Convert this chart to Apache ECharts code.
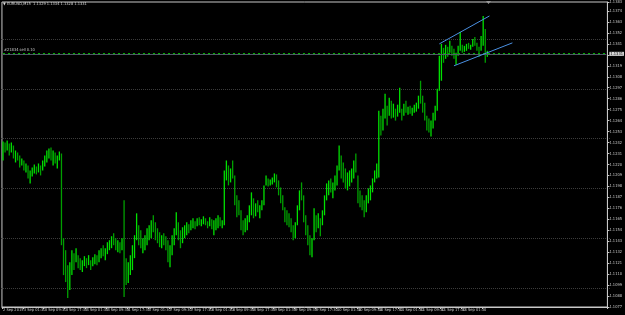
<!DOCTYPE html>
<html>
<head>
<meta charset="utf-8">
<script src="https://cdn.jsdelivr.net/npm/echarts@6/dist/echarts.min.js"></script>
<style>
html,body{margin:0;padding:0;background:#000;}
#chart{width:625px;height:315px;}
</style>
</head>
<body>
<div id="chart"></div>
<script>
const titleText = '\u25BC EURUSD,M15  1.1329 1.1334 1.1328 1.1331';
const xLabels = ['2 Sep 2015','3 Sep 01:30','3 Sep 09:30','3 Sep 17:30','4 Sep 01:30','4 Sep 09:30','4 Sep 17:30',
  '7 Sep 01:30','7 Sep 09:30','7 Sep 17:30','8 Sep 01:30','8 Sep 09:30','8 Sep 17:30','9 Sep 01:30','9 Sep 09:30',
  '9 Sep 17:30','10 Sep 01:30','10 Sep 09:30','10 Sep 17:30','11 Sep 01:30','11 Sep 09:30','11 Sep 17:30',
  '14 Sep 01:30','14 Sep 09:30'];
const totalSlots = 290;
const labelEvery = 10;

const opens = [
1.1226,1.1239,1.1236,1.1241,1.1232,1.1238,1.1228,1.1231,1.1226,1.1221,
1.1224,1.1216,1.1219,1.1208,1.1212,1.1214,1.1218,1.1213,1.1219,1.1216,
1.1222,1.1226,1.1231,1.1234,1.1227,1.1231,1.1224,1.1227,1.1230,1.1142,
1.1116,1.1108,1.1099,1.1118,1.1126,1.1122,1.1129,1.1120,1.1118,1.1122,
1.1125,1.1119,1.1124,1.1118,1.1124,1.1127,1.1122,1.1130,1.1134,1.1131,
1.1135,1.1139,1.1142,1.1146,1.1141,1.1137,1.1140,1.1134,1.1139,1.1114,
1.1108,1.1118,1.1126,1.1134,1.1144,1.1154,1.1144,1.1140,1.1144,1.1147,
1.1152,1.1156,1.1160,1.1158,1.1149,1.1147,1.1144,1.1146,1.1142,1.1136,
1.1126,1.1134,1.1144,1.1152,1.1156,1.1148,1.1144,1.1152,1.1154,1.1158,
1.1156,1.1161,1.1162,1.1158,1.1164,1.1162,1.1163,1.1165,1.1161,1.1159,
1.1164,1.1158,1.1160,1.1162,1.1165,1.1161,1.1162,1.1209,1.1216,1.1206,
1.1212,1.1208,1.1184,1.1174,1.1172,1.1158,1.1156,1.1160,1.1166,1.1174,
1.1176,1.1172,1.1178,1.1175,1.1178,1.1181,1.1199,1.1204,1.1202,1.1204,
1.1205,1.1208,1.1200,1.1192,1.1184,1.1176,1.1168,1.1164,1.1160,1.1154,
1.1150,1.1159,1.1176,1.1189,1.1186,1.1166,1.1154,1.1144,1.1134,1.1144,
1.1169,1.1159,1.1166,1.1159,1.1170,1.1186,1.1196,1.1199,1.1196,1.1198,
1.1206,1.1214,1.1224,1.1212,1.1208,1.1202,1.1206,1.1209,1.1212,1.1219,
1.1209,1.1186,1.1184,1.1178,1.1174,1.1184,1.1192,1.1196,1.1204,1.1210,
1.1214,1.1266,1.1256,1.1272,1.1279,1.1269,1.1278,1.1272,1.1276,1.1268,
1.1274,1.1276,1.1270,1.1276,1.1274,1.1276,1.1273,1.1275,1.1278,1.1280,
1.1286,1.1284,1.1276,1.1266,1.1258,1.1256,1.1260,1.1269,1.1276,1.1294,
1.1324,1.1334,1.1329,1.1336,1.1332,1.1338,1.1332,1.1328,1.1330,1.1336,
1.1338,1.1336,1.1337,1.1339,1.1338,1.1340,1.1343,1.1341,1.1336,1.1334,
1.1344,1.1352,1.1329];

const closes = [
1.1239,1.1236,1.1241,1.1232,1.1238,1.1228,1.1231,1.1226,1.1221,1.1224,
1.1216,1.1219,1.1208,1.1212,1.1214,1.1218,1.1213,1.1219,1.1216,1.1222,
1.1226,1.1231,1.1234,1.1227,1.1231,1.1224,1.1227,1.1230,1.1142,1.1116,
1.1108,1.1099,1.1118,1.1126,1.1119,1.1132,1.1120,1.1118,1.1122,1.1125,
1.1119,1.1126,1.1117,1.1124,1.1127,1.1122,1.1130,1.1134,1.1131,1.1135,
1.1139,1.1142,1.1146,1.1141,1.1137,1.1140,1.1134,1.1139,1.1114,1.1108,
1.1118,1.1126,1.1134,1.1144,1.1154,1.1144,1.1140,1.1144,1.1147,1.1152,
1.1156,1.1160,1.1158,1.1149,1.1147,1.1144,1.1146,1.1142,1.1136,1.1126,
1.1134,1.1144,1.1152,1.1156,1.1148,1.1144,1.1152,1.1154,1.1158,1.1156,
1.1161,1.1162,1.1158,1.1164,1.1162,1.1163,1.1165,1.1161,1.1159,1.1164,
1.1158,1.1160,1.1162,1.1165,1.1161,1.1162,1.1209,1.1216,1.1206,1.1212,
1.1208,1.1184,1.1174,1.1172,1.1158,1.1156,1.1160,1.1166,1.1174,1.1176,
1.1172,1.1178,1.1175,1.1178,1.1181,1.1197,1.1204,1.1202,1.1204,1.1205,
1.1208,1.1200,1.1192,1.1184,1.1176,1.1168,1.1164,1.1160,1.1154,1.1150,
1.1158,1.1176,1.1189,1.1186,1.1166,1.1154,1.1144,1.1134,1.1142,1.1169,
1.1159,1.1166,1.1154,1.1170,1.1186,1.1196,1.1199,1.1196,1.1198,1.1206,
1.1214,1.1224,1.1212,1.1208,1.1202,1.1206,1.1209,1.1212,1.1219,1.1214,
1.1186,1.1184,1.1178,1.1174,1.1184,1.1192,1.1196,1.1204,1.1210,1.1214,
1.1266,1.1256,1.1272,1.1279,1.1264,1.1278,1.1272,1.1276,1.1268,1.1274,
1.1280,1.1270,1.1276,1.1274,1.1276,1.1273,1.1275,1.1278,1.1280,1.1286,
1.1284,1.1276,1.1266,1.1258,1.1256,1.1260,1.1269,1.1276,1.1292,1.1324,
1.1334,1.1329,1.1336,1.1332,1.1338,1.1332,1.1328,1.1330,1.1336,1.1338,
1.1336,1.1337,1.1339,1.1338,1.1340,1.1343,1.1341,1.1336,1.1332,1.1344,
1.1352,1.1329,1.1331];

const highs = [
1.1243,1.1242,1.1244,1.1241,1.1242,1.1239,1.1234,1.1232,1.1229,1.1226,
1.1224,1.1221,1.1219,1.1214,1.1217,1.1220,1.1218,1.1221,1.1219,1.1224,
1.1229,1.1234,1.1236,1.1237,1.1234,1.1232,1.1229,1.1233,1.1231,1.1146,
1.1134,1.1119,1.1122,1.1134,1.1131,1.1136,1.1129,1.1126,1.1124,1.1128,
1.1126,1.1129,1.1124,1.1127,1.1130,1.1129,1.1134,1.1136,1.1139,1.1136,
1.1142,1.1144,1.1148,1.1151,1.1146,1.1144,1.1142,1.1146,1.1184,1.1126,
1.1122,1.1129,1.1139,1.1149,1.1171,1.1159,1.1154,1.1146,1.1149,1.1156,
1.1159,1.1164,1.1169,1.1162,1.1156,1.1152,1.1149,1.1151,1.1148,1.1144,
1.1139,1.1149,1.1156,1.1172,1.1162,1.1154,1.1157,1.1159,1.1162,1.1160,
1.1164,1.1166,1.1163,1.1166,1.1167,1.1165,1.1168,1.1166,1.1163,1.1167,
1.1165,1.1164,1.1166,1.1169,1.1167,1.1164,1.1214,1.1224,1.1219,1.1216,
1.1224,1.1209,1.1189,1.1184,1.1174,1.1164,1.1166,1.1169,1.1179,1.1192,
1.1186,1.1181,1.1184,1.1179,1.1184,1.1199,1.1209,1.1206,1.1205,1.1207,
1.1211,1.1210,1.1204,1.1197,1.1189,1.1177,1.1174,1.1171,1.1166,1.1159,
1.1162,1.1179,1.1194,1.1202,1.1189,1.1169,1.1159,1.1149,1.1146,1.1176,
1.1169,1.1171,1.1166,1.1174,1.1189,1.1201,1.1204,1.1206,1.1202,1.1209,
1.1219,1.1239,1.1229,1.1222,1.1216,1.1212,1.1214,1.1216,1.1224,1.1231,
1.1209,1.1194,1.1189,1.1184,1.1189,1.1196,1.1199,1.1206,1.1214,1.1221,
1.1274,1.1269,1.1276,1.1291,1.1279,1.1287,1.1284,1.1281,1.1276,1.1280,
1.1297,1.1276,1.1281,1.1284,1.1278,1.1279,1.1277,1.1280,1.1282,1.1289,
1.1304,1.1289,1.1282,1.1269,1.1266,1.1264,1.1272,1.1279,1.1296,1.1329,
1.1341,1.1337,1.1340,1.1338,1.1344,1.1339,1.1336,1.1332,1.1339,1.1353,
1.1340,1.1339,1.1341,1.1342,1.1340,1.1346,1.1348,1.1342,1.1338,1.1349,
1.1369,1.1356,1.1334];

const lows = [
1.1224,1.1232,1.1234,1.1229,1.1232,1.1226,1.1222,1.1224,1.1217,1.1219,
1.1214,1.1212,1.1206,1.1201,1.1208,1.1211,1.1210,1.1212,1.1209,1.1214,
1.1218,1.1222,1.1226,1.1224,1.1219,1.1221,1.1216,1.1224,1.1139,1.1109,
1.1102,1.1086,1.1094,1.1109,1.1114,1.1122,1.1116,1.1114,1.1112,1.1118,
1.1116,1.1119,1.1114,1.1118,1.1120,1.1119,1.1122,1.1126,1.1128,1.1124,
1.1130,1.1134,1.1136,1.1139,1.1134,1.1132,1.1131,1.1134,1.1087,1.1099,
1.1101,1.1109,1.1114,1.1126,1.1144,1.1139,1.1136,1.1131,1.1134,1.1139,
1.1144,1.1146,1.1152,1.1144,1.1141,1.1137,1.1136,1.1139,1.1134,1.1122,
1.1117,1.1129,1.1139,1.1149,1.1144,1.1136,1.1141,1.1146,1.1149,1.1151,
1.1154,1.1156,1.1155,1.1158,1.1159,1.1158,1.1160,1.1159,1.1156,1.1158,
1.1155,1.1149,1.1154,1.1156,1.1158,1.1156,1.1159,1.1204,1.1199,1.1202,
1.1206,1.1179,1.1167,1.1169,1.1154,1.1149,1.1152,1.1154,1.1162,1.1169,
1.1166,1.1168,1.1172,1.1166,1.1174,1.1179,1.1199,1.1198,1.1199,1.1200,
1.1202,1.1197,1.1189,1.1181,1.1174,1.1162,1.1159,1.1157,1.1152,1.1144,
1.1146,1.1159,1.1174,1.1184,1.1162,1.1149,1.1139,1.1129,1.1127,1.1144,
1.1152,1.1156,1.1148,1.1159,1.1169,1.1184,1.1189,1.1192,1.1186,1.1194,
1.1199,1.1214,1.1206,1.1202,1.1196,1.1194,1.1198,1.1202,1.1206,1.1212,
1.1181,1.1177,1.1174,1.1167,1.1172,1.1181,1.1184,1.1192,1.1202,1.1206,
1.1207,1.1249,1.1254,1.1266,1.1259,1.1269,1.1266,1.1267,1.1264,1.1268,
1.1272,1.1264,1.1269,1.1272,1.1270,1.1271,1.1269,1.1272,1.1273,1.1276,
1.1281,1.1272,1.1264,1.1254,1.1252,1.1248,1.1256,1.1264,1.1274,1.1294,
1.1304,1.1322,1.1326,1.1328,1.1332,1.1329,1.1326,1.1320,1.1329,1.1334,
1.1332,1.1333,1.1334,1.1336,1.1335,1.1338,1.1339,1.1334,1.1328,1.1334,
1.1339,1.1322,1.1328];

const trendUpper = [[209, 1.1341], [233, 1.1369]];
const trendLower = [[216, 1.1319], [244, 1.1342]];
const bidPrice = 1.1331;
const orderPrice = 1.1332;
const orderLabel = '#21834 sell 0.10';
const priceMin = 1.1077, priceMax = 1.1383, priceStep = 0.0011;

const upColor = '#00e000';
const downColor = '#00a000';
const categories = Array.from({length: totalSlots}, (_, i) => String(i));
const barData = opens.map((o, i) => [i, o, closes[i], lows[i], highs[i]]);
const showTick = (idx) => idx % labelEvery === 0 && (idx / labelEvery) < xLabels.length;
const narrow = "'Liberation Sans Narrow','DejaVu Sans Condensed','Liberation Sans',sans-serif";
const fg = '#c8c8c8';
const lastSlot = totalSlots - 1;

function renderBar(params, api) {
  const idx = api.value(0);
  const lo = api.coord([idx, api.value(3)]);
  const hi = api.coord([idx, api.value(4)]);
  const up = api.value(2) >= api.value(1);
  let y2 = hi[1];
  if (lo[1] - y2 < 1) y2 = lo[1] - 1;
  return {
    type: 'line',
    shape: {x1: lo[0], y1: lo[1], x2: lo[0], y2: y2},
    style: {stroke: up ? upColor : downColor, lineWidth: 1.3}
  };
}

const chart = echarts.init(document.getElementById('chart'), null, {renderer: 'canvas'});
chart.setOption({
  backgroundColor: '#000000',
  animation: false,
  title: {
    text: titleText, left: 3, top: 2, padding: 0,
    textStyle: {color: '#d8d8d8', fontSize: 4, fontWeight: 'normal', fontFamily: narrow}
  },
  grid: [
    {left: 1, right: 15, top: 1, bottom: 8, show: true, borderColor: fg, borderWidth: 1, backgroundColor: '#000'},
    {left: 1, right: 15, top: 39, bottom: 27, show: false}
  ],
  xAxis: [
    {
      type: 'category', gridIndex: 0, data: categories, boundaryGap: true,
      axisLine: {show: true, lineStyle: {color: fg, width: 1}},
      axisTick: {show: true, interval: showTick, length: 2, lineStyle: {color: fg}},
      axisLabel: {
        show: true, interval: showTick, align: 'left', margin: 1,
        fontSize: 4, fontFamily: narrow, color: fg,
        formatter: (v, idx) => (idx % labelEvery === 0 ? (xLabels[idx / labelEvery] || '') : '')
      },
      splitLine: {show: false}
    },
    {type: 'value', gridIndex: 1, min: 0, max: 1, show: false}
  ],
  yAxis: [
    {
      type: 'value', gridIndex: 0, position: 'right',
      min: priceMin, max: priceMax, interval: priceStep,
      axisLine: {show: true, lineStyle: {color: fg, width: 1}},
      axisTick: {show: true, length: 2, lineStyle: {color: fg}},
      axisLabel: {show: true, margin: 2, fontSize: 4, fontFamily: narrow, color: fg,
        formatter: v => v.toFixed(4)},
      splitLine: {show: false}
    },
    {
      type: 'value', gridIndex: 1, min: 0, max: 5, interval: 1,
      axisLine: {show: false}, axisTick: {show: false}, axisLabel: {show: false},
      splitLine: {show: true, lineStyle: {type: 'dotted', color: '#3c3c3c', width: 1}}
    }
  ],
  series: [
    {
      type: 'custom', xAxisIndex: 0, yAxisIndex: 0,
      data: barData,
      encode: {x: 0, y: [3, 4]},
      renderItem: renderBar,
      clip: true,
      z: 3,
      markLine: {
        silent: true, symbol: 'none', animation: false,
        lineStyle: {color: '#4a90e2', type: 'solid', width: 1},
        label: {show: false},
        data: [
          [{coord: [0, bidPrice], lineStyle: {color: '#4e5a66', type: 'solid', width: 1},
            label: {show: true, position: 'end', formatter: bidPrice.toFixed(4), distance: 3,
              fontSize: 4, fontFamily: narrow, color: '#000', backgroundColor: '#d8d8d8', padding: [0, 1]}},
           {coord: [lastSlot, bidPrice]}],
          [{coord: [0, orderPrice], lineStyle: {color: '#00b400', type: [2, 3], width: 1},
            label: {show: true, position: 'insideStartTop', formatter: orderLabel, distance: 1,
              fontSize: 4, fontFamily: narrow, color: '#c8c8c8'}},
           {coord: [lastSlot, orderPrice]}],
          [{coord: trendUpper[0]}, {coord: trendUpper[1]}],
          [{coord: trendLower[0]}, {coord: trendLower[1]}]
        ]
      }
    }
  ],
  graphic: [
    {type: 'polygon', shape: {points: [[486, 1], [491, 1], [488.5, 4]]}, style: {fill: '#9a9a9a'}, z: 100}
  ]
});
</script>
</body>
</html>
